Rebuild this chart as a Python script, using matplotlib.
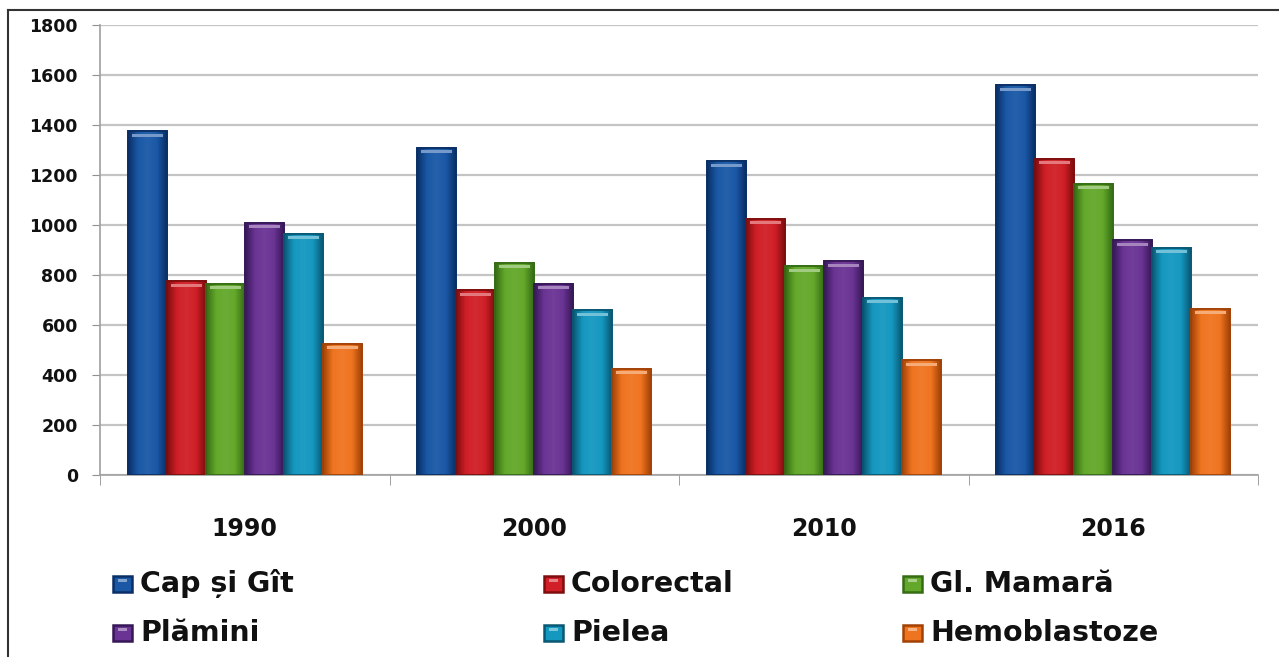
import numpy as np
import matplotlib
matplotlib.use('Agg')
import matplotlib.pyplot as plt
from matplotlib.colors import LinearSegmentedColormap, to_rgb
from matplotlib.patches import Rectangle
from matplotlib.lines import Line2D

# incidence by localisation, per year
years = ['1990', '2000', '2010', '2016']
series = ['Cap și Gît', 'Colorectal', 'Gl. Mamară', 'Plămini', 'Pielea', 'Hemoblastoze']
cap_git = [1375, 1310, 1255, 1560]
colorectal = [775, 740, 1025, 1265]
gl_mamara = [765, 850, 835, 1165]
plamini = [1010, 765, 855, 940]
pielea = [965, 660, 710, 910]
hemoblastoze = [525, 425, 460, 665]
values = [cap_git, colorectal, gl_mamara, plamini, pielea, hemoblastoze]

# base / dark shade for the "cylinder" look of each series
base_cols = ['#1a58a6', '#d01f26', '#63a82b', '#6a3494', '#1598c0', '#ef7420']
dark_cols = ['#0a2f66', '#7e0e0e', '#356c14', '#361857', '#095874', '#a24207']

fig = plt.figure(figsize=(12.79, 6.57), dpi=100)
ax = fig.add_axes([100 / 1279, 1 - 475 / 657, 1158 / 1279, 450 / 657])

n = len(series)
group_w = 0.807
bw = group_w / n
x = np.arange(len(years))


def lighten(c, f):
    r = np.array(to_rgb(c))
    return tuple(r + (1 - r) * f)


for i, (vals, bc, dc) in enumerate(zip(values, base_cols, dark_cols)):
    pos = x - group_w / 2 + bw * (i + 0.5)
    bars = ax.bar(pos, vals, width=bw, color=bc, edgecolor=dc, linewidth=1.2, zorder=3)
    cmap = LinearSegmentedColormap.from_list(
        'c%d' % i, [dc, bc, lighten(bc, 0.05), bc, dc])
    grad = np.linspace(0, 1, 64).reshape(1, -1)
    for b in bars:
        x0, w, h = b.get_x(), b.get_width(), b.get_height()
        im = ax.imshow(grad, cmap=cmap, extent=(x0, x0 + w, 0, h),
                       aspect='auto', zorder=4, interpolation='bicubic')
        im.set_clip_path(b)
        # thin light rim near the top of the bar
        cap = Rectangle((x0 + w * 0.1, h - 22), w * 0.8, 12,
                        color=lighten(bc, 0.4), zorder=5, linewidth=0)
        ax.add_patch(cap)
        ax.add_patch(Rectangle((x0, 0), w, h, fill=False, edgecolor=dc,
                               linewidth=1.3, zorder=6))

ax.set_xlim(-0.5, len(years) - 0.5)
ax.set_ylim(0, 1800)
ax.set_yticks(range(0, 1801, 200))
ax.set_yticklabels([str(v) for v in range(0, 1801, 200)],
                   fontsize=12.5, fontweight='bold', color='#111111')
ax.set_xticks(x)
ax.set_xticklabels(years, fontsize=17, fontweight='bold', color='#111111')
ax.set_xticks(np.arange(-0.5, len(years)), minor=True)
ax.tick_params(axis='x', which='major', length=0, pad=30)
ax.tick_params(axis='x', which='minor', length=7, color='#909090', direction='out')
ax.tick_params(axis='y', length=6, color='#909090', pad=10)

ax.yaxis.grid(True, color='#c4c4c4', linewidth=1.6, zorder=0)
ax.set_axisbelow(True)
for s in ['top', 'right']:
    ax.spines[s].set_visible(False)
ax.spines['left'].set_color('#a0a0a0')
ax.spines['bottom'].set_color('#a0a0a0')
ax.spines['left'].set_linewidth(1.2)
ax.spines['bottom'].set_linewidth(1.2)

# legend, 3 columns x 2 rows
col_x = [113, 544, 903]
row_y = [584, 633]
for k, (name, bc, dc) in enumerate(zip(series, base_cols, dark_cols)):
    cx = col_x[k % 3]
    cy = row_y[k // 3]
    fx, fy = cx / 1279, 1 - cy / 657
    fig.patches.append(Rectangle((fx, fy - 8 / 657), 19 / 1279, 16 / 657,
                                 facecolor=bc, edgecolor=dc, linewidth=1.8,
                                 transform=fig.transFigure, figure=fig))
    fig.patches.append(Rectangle((fx + 5 / 1279, fy + 2 / 657), 9 / 1279, 3 / 657,
                                 facecolor=lighten(bc, 0.45), linewidth=0,
                                 transform=fig.transFigure, figure=fig))
    fig.text(fx + 27 / 1279, fy, name, fontsize=20.5, fontweight='bold',
             color='#111111', va='center', ha='left')

# frame lines on top and left
fig.add_artist(Line2D([8 / 1279, 1], [1 - 10 / 657, 1 - 10 / 657],
                      color='#333333', linewidth=1.5, transform=fig.transFigure))
fig.add_artist(Line2D([8 / 1279, 8 / 1279], [0, 1 - 10 / 657],
                      color='#333333', linewidth=1.5, transform=fig.transFigure))

fig.savefig('out.png', dpi=100)
